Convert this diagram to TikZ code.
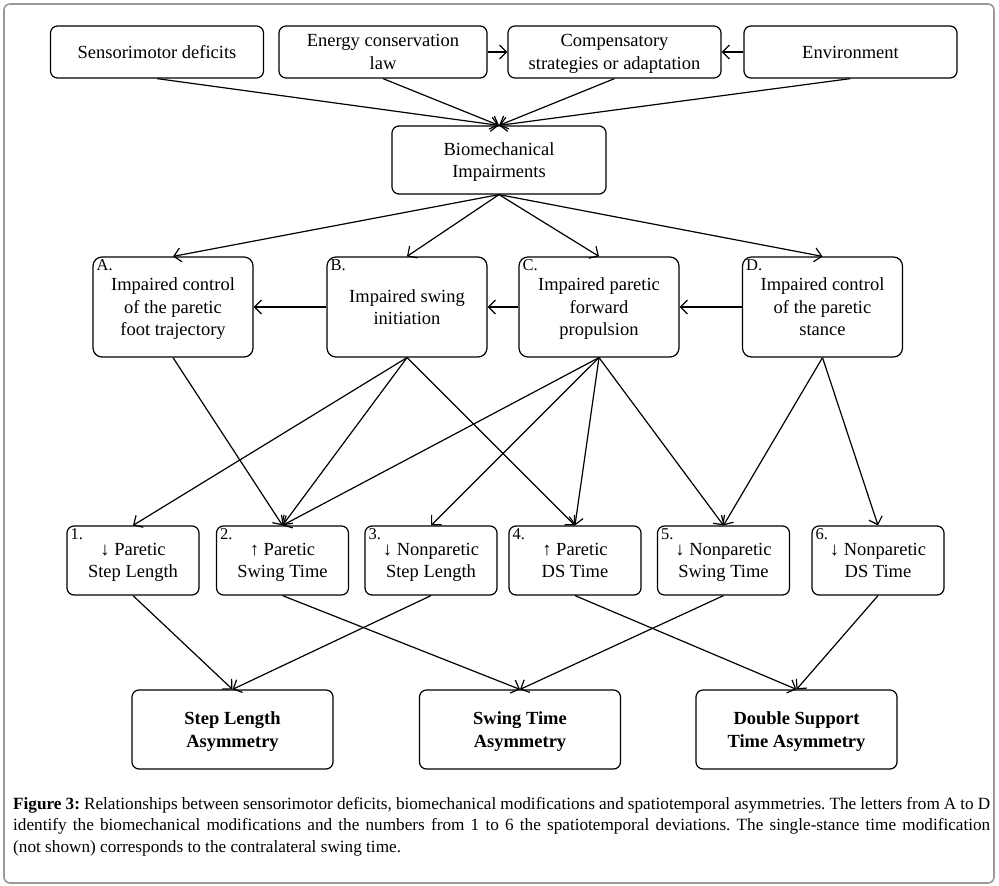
\documentclass[tikz,border=0pt]{standalone}
\usepackage{fontspec}
\setmainfont{Liberation Serif}
\usetikzlibrary{arrows.meta}
\frenchspacing
\begin{document}
\begin{tikzpicture}[x=1pt,y=-1pt,
 box/.style={draw, line width=1.2pt, rounded corners=7pt, align=center, inner sep=0pt, text depth=0pt, font=\fontsize{18.5}{22.5}\selectfont},
 topbox/.style={box, minimum width=213pt, minimum height=52pt},
 midbox/.style={box, rounded corners=9pt, minimum width=160pt, minimum height=100pt},
 lowbox/.style={box, minimum width=132pt, minimum height=69pt},
 asymbox/.style={box, minimum width=201pt, minimum height=79pt, font=\fontsize{18.5}{22.5}\selectfont\bfseries},
 tag/.style={anchor=north west, inner sep=0pt, font=\fontsize{16.5}{18}\selectfont},
 arr/.style={-{Straight Barb[length=7pt,width=14pt]}, line width=1.2pt}]
\useasboundingbox (0,0) rectangle (999,886);
\draw[gray!80, line width=1.6pt, rounded corners=6pt] (4,4) rectangle (994,883);

% top row
\node[topbox] (sen) at (157,52) {Sensorimotor deficits};
\node[topbox, minimum width=208pt] (ene) at (383,52) {Energy conservation\\law};
\node[topbox] (com) at (614.5,52) {Compensatory\\strategies or adaptation};
\node[topbox] (env) at (850.5,52) {Environment};
\node[box, minimum width=214pt, minimum height=68pt] (bio) at (499,160) {Biomechanical\\Impairments};

% middle row
\node[midbox] (A) at (173,307) {Impaired control\\of the paretic\\foot trajectory};
\node[midbox] (B) at (407,307) {Impaired swing\\initiation};
\node[midbox] (C) at (599,307) {Impaired paretic\\forward\\propulsion};
\node[midbox] (D) at (822.5,307) {Impaired control\\of the paretic\\stance};
\node[tag] (tA) at ([xshift=4pt,yshift=-3pt]A.north west) {A.};
\node[tag] (tB) at ([xshift=4pt,yshift=-3pt]B.north west) {B.};
\node[tag] (tC) at ([xshift=4pt,yshift=-3pt]C.north west) {C.};
\node[tag] (tD) at ([xshift=4pt,yshift=-3pt]D.north west) {D.};

% lower row
\node[lowbox] (n1) at (133,560.5) {↓ Paretic\\Step Length};
\node[lowbox] (n2) at (282.5,560.5) {↑ Paretic\\Swing Time};
\node[lowbox] (n3) at (431,560.5) {↓ Nonparetic\\Step Length};
\node[lowbox] (n4) at (575,560.5) {↑ Paretic\\DS Time};
\node[lowbox] (n5) at (723.5,560.5) {↓ Nonparetic\\Swing Time};
\node[lowbox] (n6) at (878,560.5) {↓ Nonparetic\\DS Time};
\node[tag] (t1) at ([xshift=4pt,yshift=-3pt]n1.north west) {1.};
\node[tag] (t2) at ([xshift=4pt,yshift=-3pt]n2.north west) {2.};
\node[tag] (t3) at ([xshift=4pt,yshift=-3pt]n3.north west) {3.};
\node[tag] (t4) at ([xshift=4pt,yshift=-3pt]n4.north west) {4.};
\node[tag] (t5) at ([xshift=4pt,yshift=-3pt]n5.north west) {5.};
\node[tag] (t6) at ([xshift=4pt,yshift=-3pt]n6.north west) {6.};

% asymmetry row
\node[asymbox] (sl) at (232.5,729.5) {Step Length\\Asymmetry};
\node[asymbox] (st) at (520,729.5) {Swing Time\\Asymmetry};
\node[asymbox] (ds) at (796.5,729.5) {Double Support\\Time Asymmetry};

% caption
\node[anchor=base west, inner sep=0pt, text width=977pt, align=justify,
      font=\fontsize{17.2}{21.8}\selectfont] (cap) at (13,809)
 {\textbf{Figure 3:} Relationships between sensorimotor deficits, biomechanical modifications and spatiotemporal asymmetries. The letters from A to D\linebreak identify the biomechanical modifications and the numbers from 1 to 6 the spatiotemporal deviations. The single-stance time modification\linebreak (not shown) corresponds to the contralateral swing time.};

% connectors: top
\draw[arr] (ene.east) -- (com.west);
\draw[arr] (env.west) -- (com.east);
\draw[arr] (sen.south) -- (bio.north);
\draw[arr] (ene.south) -- (bio.north);
\draw[arr] (com.south) -- (bio.north);
\draw[arr] (env.south) -- (bio.north);
\draw[arr] (bio.south) -- (A.north);
\draw[arr] (bio.south) -- (B.north);
\draw[arr] (bio.south) -- (C.north);
\draw[arr] (bio.south) -- (D.north);
\draw[arr] (B.west) -- (A.east);
\draw[arr] (C.west) -- (B.east);
\draw[arr] (D.west) -- (C.east);

% middle to lower
\draw[arr] (A.south) -- (n2.north);
\draw[arr] (B.south) -- (n1.north);
\draw[arr] (B.south) -- (n2.north);
\draw[arr] (B.south) -- (n4.north);
\draw[arr] (C.south) -- (n2.north);
\draw[arr] (C.south) -- (n3.north);
\draw[arr] (C.south) -- (n4.north);
\draw[arr] (C.south) -- (n5.north);
\draw[arr] (D.south) -- (n5.north);
\draw[arr] (D.south) -- (n6.north);

% lower to asymmetry
\draw[arr] (n1.south) -- (sl.north);
\draw[arr] (n3.south) -- (sl.north);
\draw[arr] (n2.south) -- (st.north);
\draw[arr] (n5.south) -- (st.north);
\draw[arr] (n4.south) -- (ds.north);
\draw[arr] (n6.south) -- (ds.north);
\end{tikzpicture}
\end{document}
